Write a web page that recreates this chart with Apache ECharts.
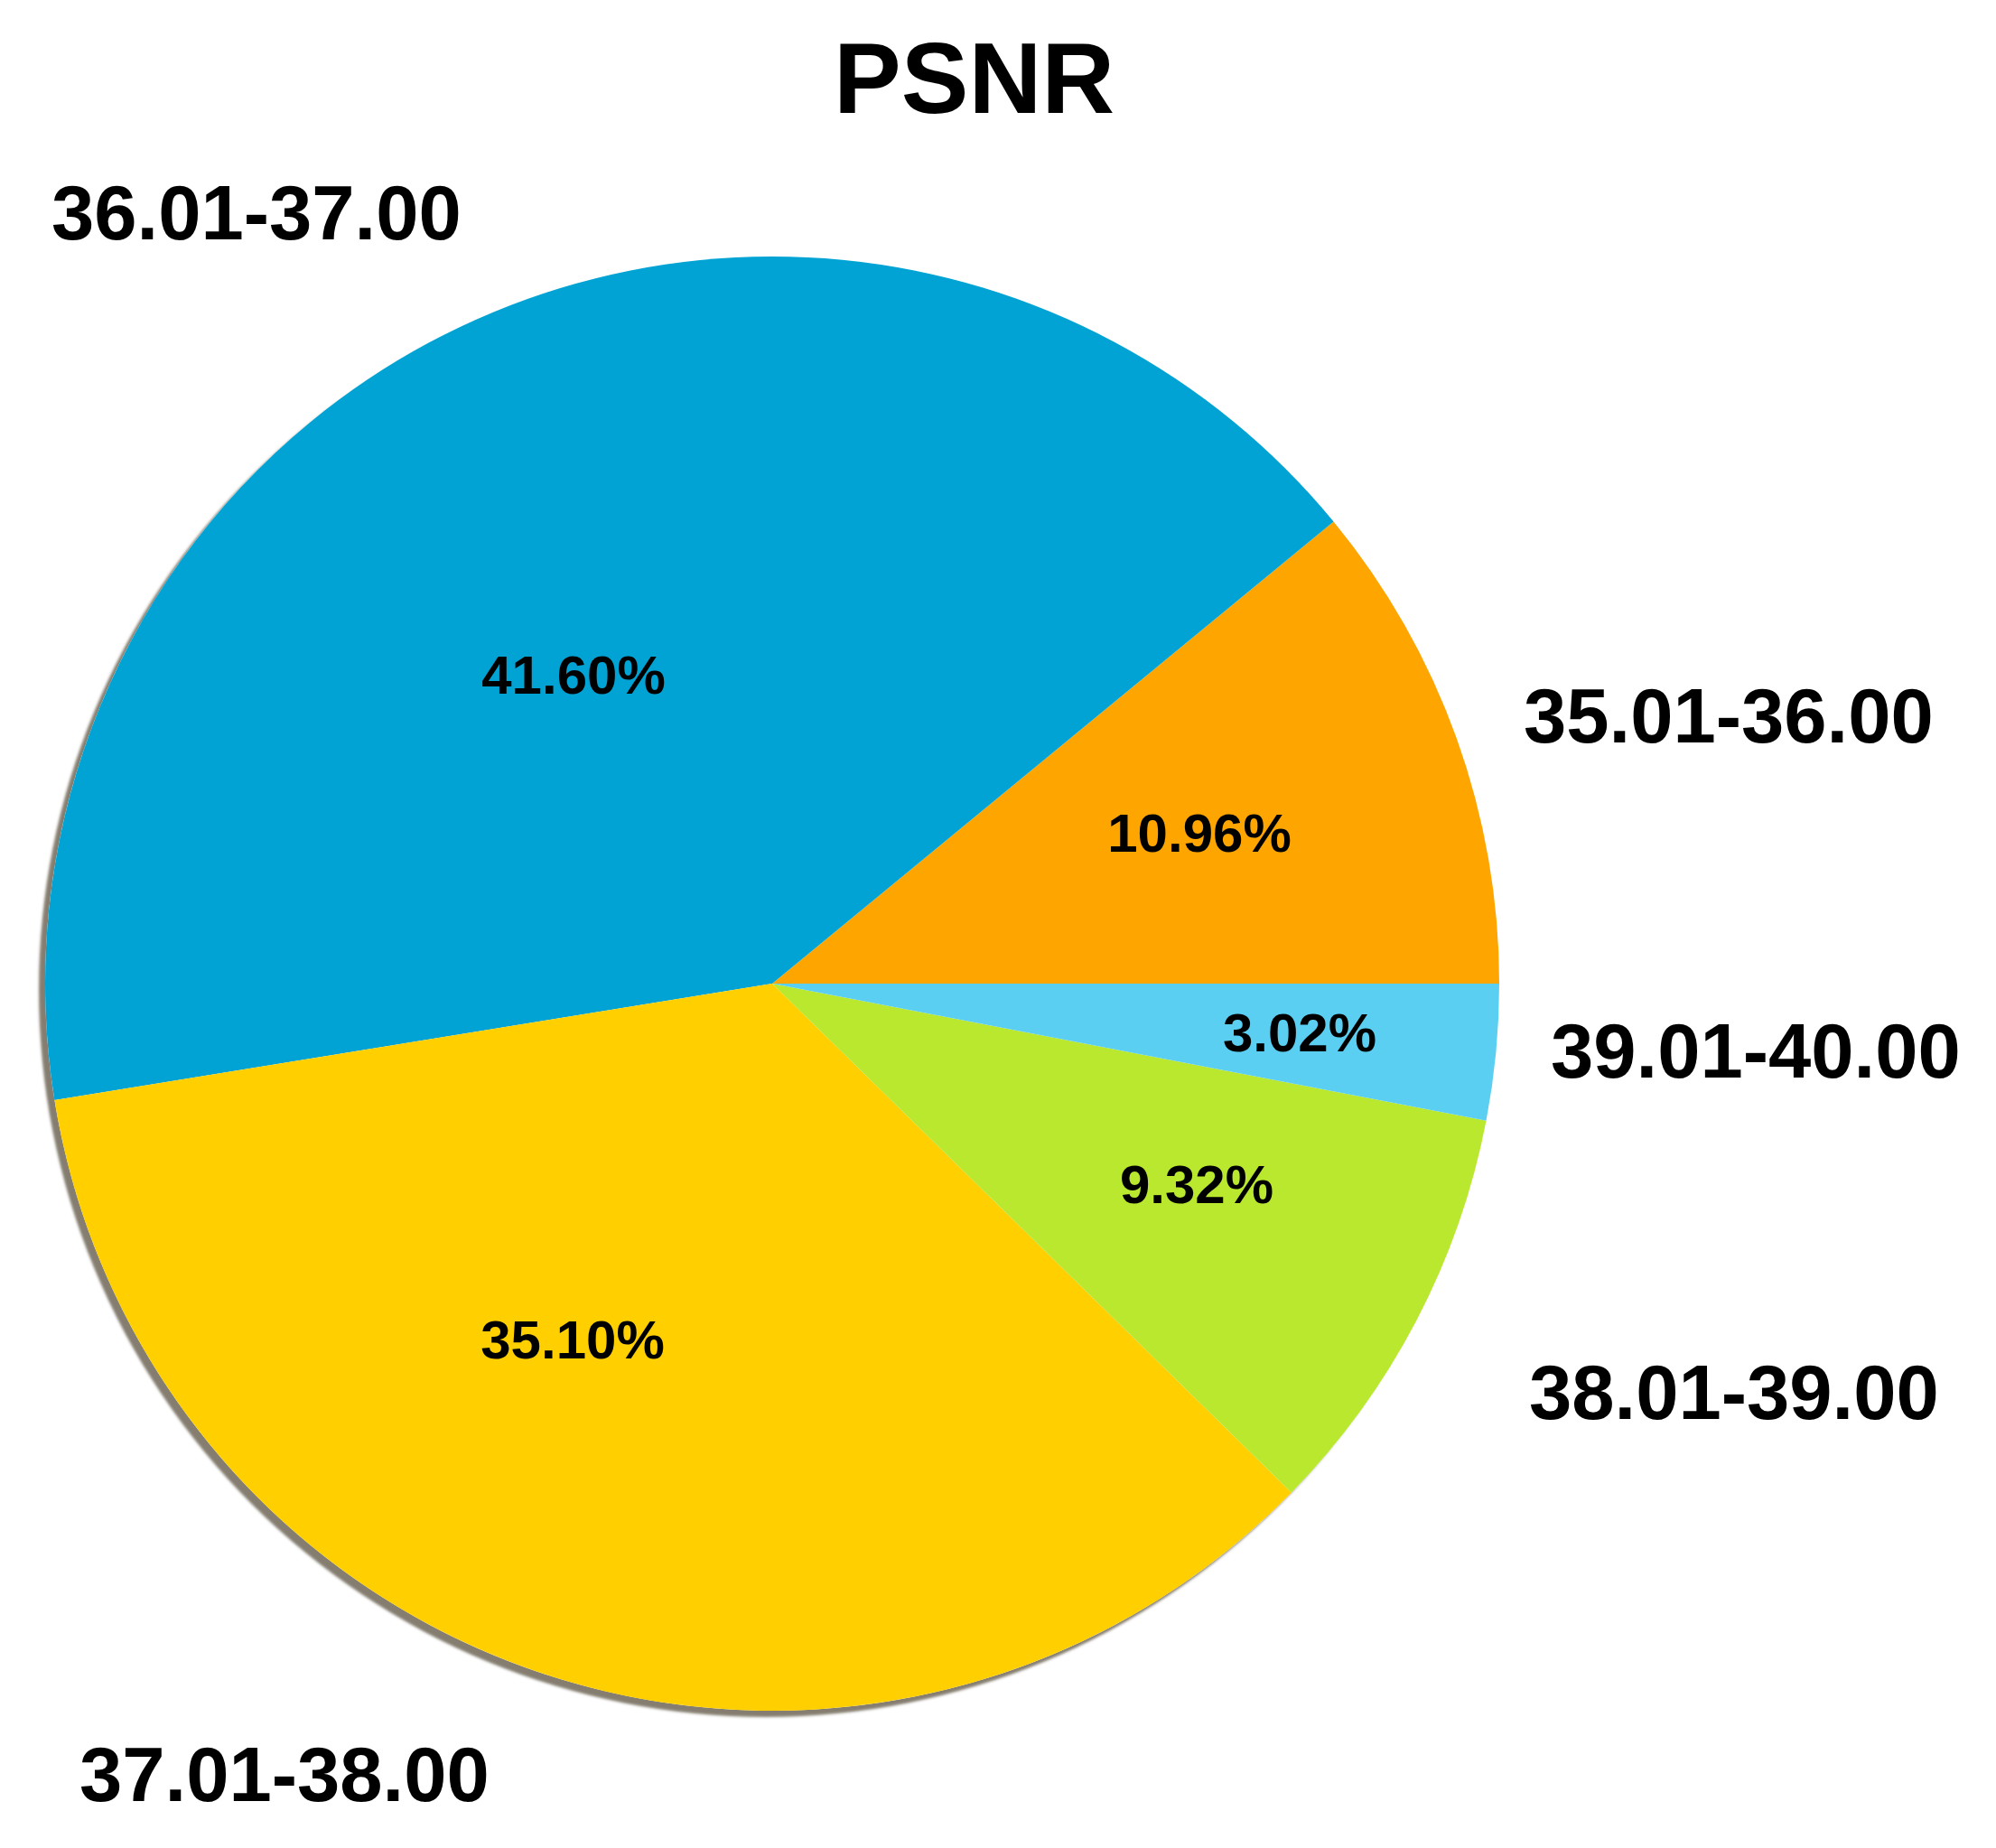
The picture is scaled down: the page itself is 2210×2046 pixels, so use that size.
<!DOCTYPE html>
<html>
<head>
<meta charset="utf-8">
<script src="https://cdn.jsdelivr.net/npm/echarts@6/dist/echarts.min.js"></script>
<style>
  html, body { margin: 0; padding: 0; background: #fff; }
  #main { width: 2210px; height: 2046px; }
</style>
</head>
<body>
<div id="main"></div>
<script>
// PSNR ranges, going counter-clockwise from 3 o'clock
var ranges = ['35.01-36.00', '36.01-37.00', '37.01-38.00', '38.01-39.00', '39.01-40.00']
var shares = [10.96, 41.60, 35.10, 9.32, 3.02]
var colors = ['#FFA500', '#00A3D4', '#FFCF00', '#B9E82F', '#5BCFF2']

// hand placed label spots (px), like in the source figure
var innerPos = [[1328, 926], [635, 751], [634, 1487], [1325, 1315], [1439, 1147]]
var outerPos = [[1687, 799], [57, 242], [88, 1971], [1693, 1548], [1717, 1170]]

var center = [855, 1089]
var radius = 805
var font = '"Liberation Sans", Arial, sans-serif'

var pieData = ranges.map(function (name, i) {
  return { name: name, value: shares[i], itemStyle: { color: colors[i] } }
})

var myChart = echarts.init(document.getElementById('main'))

var option = {
  backgroundColor: '#fff',
  animation: false,
  title: {
    text: 'PSNR',
    left: 918,
    top: 33,
    textStyle: { fontFamily: font, fontWeight: 'bold', fontSize: 112, color: '#000' }
  },
  series: [
    { // drop shadow under the disc
      type: 'pie',
      silent: true,
      center: center,
      radius: radius,
      label: { show: false },
      labelLine: { show: false },
      itemStyle: {
        color: '#fff',
        shadowColor: 'rgba(120,112,96,0.9)',
        shadowBlur: 3,
        shadowOffsetX: -7,
        shadowOffsetY: 7
      },
      data: [{ value: 1 }]
    },
    { // slices + percent labels
      type: 'pie',
      center: center,
      radius: radius,
      startAngle: 0,
      clockwise: false,
      avoidLabelOverlap: false,
      itemStyle: { borderWidth: 0 },
      label: {
        show: true,
        position: 'inside',
        formatter: function (p) { return p.value.toFixed(2) + '%' },
        fontFamily: font,
        fontWeight: 'bold',
        fontSize: 60,
        color: '#000'
      },
      labelLine: { show: false },
      labelLayout: function (p) {
        var pos = innerPos[p.dataIndex]
        return { x: pos[0], y: pos[1], align: 'center', verticalAlign: 'middle' }
      },
      data: pieData
    },
    { // range names outside the disc
      type: 'pie',
      silent: true,
      center: center,
      radius: radius,
      startAngle: 0,
      clockwise: false,
      avoidLabelOverlap: false,
      itemStyle: { color: 'rgba(0,0,0,0)', borderWidth: 0 },
      label: {
        show: true,
        position: 'outside',
        formatter: '{b}',
        fontFamily: font,
        fontWeight: 'bold',
        fontSize: 85,
        color: '#000'
      },
      labelLine: { show: false },
      labelLayout: function (p) {
        var pos = outerPos[p.dataIndex]
        return { x: pos[0], y: pos[1], align: 'left', verticalAlign: 'middle' }
      },
      data: ranges.map(function (name, i) { return { name: name, value: shares[i] } })
    }
  ]
}

myChart.setOption(option)
</script>
</body>
</html>
